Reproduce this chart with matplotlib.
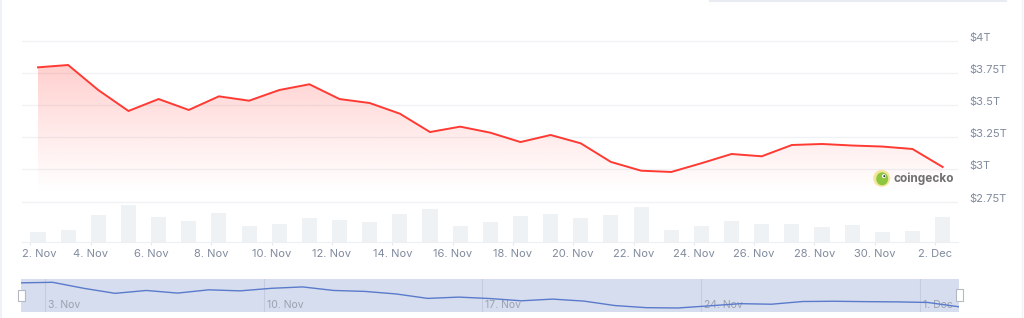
# -*- coding: utf-8 -*-
"""
Crypto market cap, 2 Nov - 2 Dec, with volume bars and navigator strip
"""
import numpy as np
import matplotlib.pyplot as plt
import matplotlib.patches as mpatches
from matplotlib.colors import to_rgb
from matplotlib.lines import Line2D
from matplotlib.transforms import IdentityTransform, ScaledTranslation

plt.rcParams['font.family'] = ['Inter', 'DejaVu Sans']

#%% data: x in days after 2 Nov 00:00, market cap in $T, volume in $B
days = [0.25, 1.25, 2.25, 3.25, 4.25, 5.25, 6.25, 7.25, 8.25, 9.25, 10.25,
        11.25, 12.25, 13.25, 14.25, 15.25, 16.25, 17.25, 18.25, 19.25, 20.25,
        21.25, 22.25, 23.25, 24.25, 25.25, 26.25, 27.25, 28.25, 29.25, 30.25]
mcap = [3.795, 3.813, 3.618, 3.455, 3.548, 3.463, 3.569, 3.535, 3.618, 3.663,
        3.548, 3.517, 3.434, 3.291, 3.333, 3.286, 3.213, 3.268, 3.203, 3.058,
        2.990, 2.980, 3.048, 3.120, 3.102, 3.190, 3.198, 3.186, 3.178, 3.159,
        3.019]
volume = [100, 120, 270, 374, 250, 207, 287, 164, 180, 237, 217, 197, 277, 327,
          164, 197, 257, 280, 237, 270, 347, 124, 164, 210, 180, 180, 154, 170,
          100, 110, 247]

tickDays = [0, 2, 4, 6, 8, 10, 12, 14, 16, 18, 20, 22, 24, 26, 28, 30]
tickLabels = ['2. Nov', '4. Nov', '6. Nov', '8. Nov', '10. Nov', '12. Nov',
              '14. Nov', '16. Nov', '18. Nov', '20. Nov', '22. Nov', '24. Nov',
              '26. Nov', '28. Nov', '30. Nov', '2. Dec']
yTicks = [2.75, 3.0, 3.25, 3.5, 3.75, 4.0]
yLabels = ['$2.75T', '$3T', '$3.25T', '$3.5T', '$3.75T', '$4T']
navDays = [1, 8, 15, 22, 29]
navLabels = ['3. Nov', '10. Nov', '17. Nov', '24. Nov', '1. Dec']

#%% colours
lineColor = '#ff3a33'
labelColor = '#808a9d'
gridColor = '#f0f2f5'
barColor = '#eff2f5'
navFill = '#d6ddee'
navLine = '#5a7acb'

W, H = 1024, 318
fig = plt.figure(figsize=(W/100, H/100), dpi=100)

def pxAxes(x0, y0, x1, y1):
    # axes from pixel box (top-left origin)
    return fig.add_axes([x0/W, 1 - y1/H, (x1 - x0)/W, (y1 - y0)/H])

#%% main chart
ax = pxAxes(22, 35, 958, 242)
ax.set_zorder(2)
ax.patch.set_visible(False)

ax.plot(days, mcap, color=lineColor, lw=1.4, solid_joinstyle='miter', zorder=4)

# gradient fill under the line
fillBottom = 2.816
poly = ax.fill_between(days, mcap, fillBottom, color='none', lw=0)
rgb = to_rgb(lineColor)
nGrad = 256
grad = np.zeros((nGrad, 1, 4))
grad[:, 0, :3] = rgb
grad[:, 0, 3] = np.linspace(0.30, 0.0, nGrad) ** 1.1
img = ax.imshow(grad, aspect='auto', origin='upper',
                extent=[days[0], days[-1], fillBottom, 3.9], zorder=3)
img.set_clip_path(poly.get_paths()[0], transform=ax.transData)
ax.set_xlim(-0.28, 30.76)
ax.set_ylim(2.4346, 4.0467)

ax.yaxis.tick_right()
ax.set_yticks(yTicks)
ax.set_yticklabels(yLabels)
for t in ax.get_yticklabels():
    t.set_va('baseline')
ax.tick_params(axis='y', length=0, pad=8.5, labelsize=8, labelcolor=labelColor)
ax.grid(axis='y', color=gridColor, lw=1)

ax.set_xticks(tickDays)
ax.set_xticklabels([''] + tickLabels[1:])
ax.tick_params(axis='x', length=2.2, width=0.8, color='#e6e9ee', pad=2.6,
               labelsize=8, labelcolor=labelColor)
# first label is pushed inside the plot edge
ax.text(0.0, 0.0, tickLabels[0], fontsize=8, color=labelColor, ha='left', va='top',
        transform=ax.transAxes + ScaledTranslation(0.01/72, -4.8/72, fig.dpi_scale_trans))
for s in ['top', 'left', 'right']:
    ax.spines[s].set_visible(False)
ax.spines['bottom'].set_color('#eceff3')

# volume bars on own scale, behind the price
axV = pxAxes(22, 35, 958, 242)
axV.set_zorder(1)
axV.bar(days, volume, width=0.5, color=barColor, lw=0)
axV.set_xlim(-0.28, 30.76)
axV.set_ylim(0, 2070)
axV.axis('off')

#%% navigator
axN = pxAxes(21.3, 279, 959, 312.3)
axN.set_facecolor(navFill)
axN.plot(days, mcap, color=navLine, lw=1.0, zorder=3)
axN.set_xlim(0.25, 30.25)
axN.set_ylim(2.84, 3.92)
for d, lab in zip(navDays, navLabels):
    axN.axvline(d, color='#c4cce0', lw=0.8, zorder=1)
    axN.text(d + 0.1, 0.23, lab, fontsize=7.5, color='#9ba1ad', ha='left',
             va='center', transform=axN.get_xaxis_transform(), zorder=2)
axN.set_xticks([])
axN.set_yticks([])
for s in axN.spines.values():
    s.set_visible(False)

ident = IdentityTransform()
for x0, y0, w, h in [(18.3, 17.3, 6.7, 10.7), (956, 17.0, 6.7, 11.7)]:
    fig.add_artist(mpatches.Rectangle((x0, y0), w, h, transform=ident,
                                      fc='white', ec='#b5b9c2', lw=0.8, zorder=10))

#%% coingecko watermark
cx, cy = 881.7, H - 178.3
fig.add_artist(mpatches.Circle((cx, cy), 8.5, transform=ident, fc='#f4e59c',
                               ec='none', zorder=10))
fig.add_artist(mpatches.Ellipse((cx + 0.5, cy - 0.5), 12, 13, transform=ident,
                                fc='#8dc63f', ec='none', zorder=11))
fig.add_artist(mpatches.Circle((cx + 2.2, cy + 2.2), 2.0, transform=ident,
                               fc='white', ec='none', zorder=12))
fig.add_artist(mpatches.Circle((cx + 2.6, cy + 2.2), 1.0, transform=ident,
                               fc='#333333', ec='none', zorder=13))
fig.text(893/W, cy/H, 'coingecko', fontsize=8.5, fontweight='bold',
         color='#707070', ha='left', va='center')

#%% faint page borders
fig.add_artist(Line2D([1/W, 1/W], [0, 1], color='#eef2f7', lw=1.5))
fig.add_artist(Line2D([710/W, 1006/W], [1 - 0.6/H, 1 - 0.6/H], color='#e8ecf2', lw=1.5))
fig.add_artist(Line2D([1022/W, 1022/W], [0, 1], color='#f1f3f6', lw=1.0))

plt.savefig('out.png', dpi=100)
